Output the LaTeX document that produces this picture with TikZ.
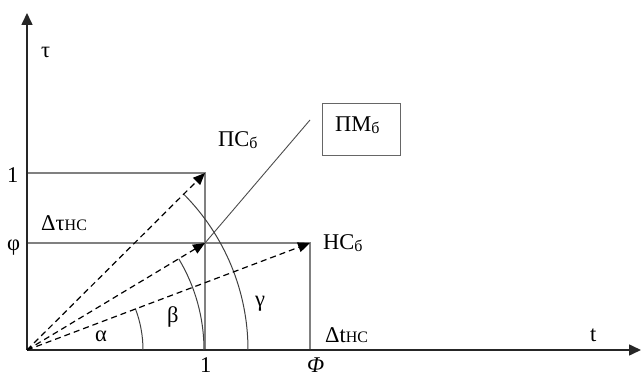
\documentclass[tikz,border=0pt]{standalone}
\usepackage{fontspec}
\setmainfont{Liberation Serif}
\usetikzlibrary{arrows.meta}
\newcommand{\sbs}[1]{{\fontsize{16}{17}\selectfont #1}}
\newcommand{\sbb}[1]{\raisebox{-2pt}{\fontsize{16}{17}\selectfont #1}}
\tikzset{
  axis/.style={draw=black!85, line width=1.6pt, -{Triangle[length=12pt,width=11pt]}},
  grid/.style={draw=black!50, line width=1.4pt},
  vec/.style={draw=black, line width=1.2pt, dash pattern=on 6pt off 4pt, -{Triangle[length=12pt,width=10pt]}},
  ang/.style={draw=black!75, line width=1pt},
  lbl/.style={anchor=base west, inner sep=0pt, font=\fontsize{22.5}{24}\selectfont}
}
\begin{document}
\begin{tikzpicture}[x=1pt,y=-1pt]
\useasboundingbox (0,0) rectangle (641,379);
% coordinates
\coordinate (O) at (27,350);
\coordinate (Ytop) at (27,13);
\coordinate (Xend) at (641,350);
\coordinate (A1) at (27,173);
\coordinate (A2) at (27,243);
\coordinate (P1) at (205,173);
\coordinate (P2) at (205,243);
\coordinate (P3) at (310,243);
\coordinate (B1) at (205,350);
\coordinate (B2) at (310,350);
\coordinate (L) at (310,120);
% grid lines
\draw[grid] (A1) -- (P1) -- (B1);
\draw[grid] (A2) -- (P3) -- (B2);
% axes
\draw[axis] (O) -- (Ytop);
\draw[axis] (O) -- (Xend);
% leader line
\draw[draw=black!70, line width=0.9pt] (L) -- (P2);
% box
\node[draw=black!60, line width=1.4pt, minimum width=78pt, minimum height=52pt, anchor=north west, inner sep=0pt] (pm) at (322,103) {};
\node[lbl] (pmt) at (335,132) {ПМ\sbb{б}};
% arcs
\draw[ang] (O) ++(0:116) arc[start angle=0, end angle=-21, radius=116];
\draw[ang] (O) ++(0:177) arc[start angle=0, end angle=-31, radius=177];
\draw[ang] (O) ++(0:221) arc[start angle=0, end angle=-45, radius=221];
% vectors
\draw[vec] (O) -- (P1);
\draw[vec] (O) -- (P2);
\draw[vec] (O) -- (P3);
% labels
\node[lbl] (tau) at (41,58) {τ};
\node[lbl] (one) at (7,183) {1};
\node[lbl] (phi) at (7,251) {φ};
\node[lbl] (dtau) at (41,231) {Δτ\sbs{НС}};
\node[lbl] (pc) at (218,147) {ПС\sbb{б}};
\node[lbl] (nc) at (323,250) {НС\sbb{б}};
\node[lbl] (al) at (95,342) {α};
\node[lbl] (be) at (167,323) {β};
\node[lbl] (ga) at (255,307) {γ};
\node[lbl] (oneb) at (200,373) {1};
\node[lbl] (Phi) at (307,373) {\itshape Φ};
\node[lbl] (dt) at (325,343) {Δt\sbs{НС}};
\node[lbl] (t) at (590,342) {t};
\end{tikzpicture}
\end{document}
